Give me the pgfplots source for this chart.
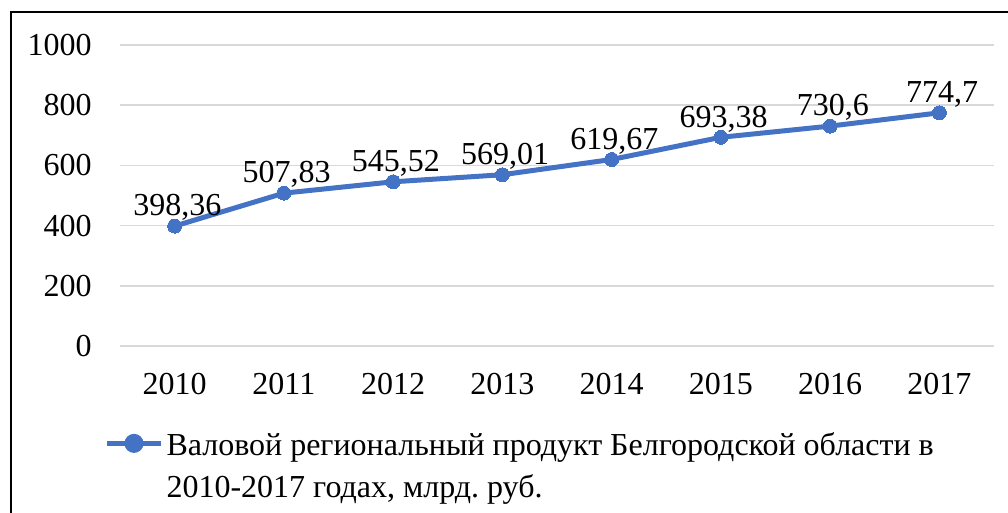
\documentclass[border=0pt]{standalone}
\usepackage{pgfplots}
\pgfplotsset{compat=1.18}
\usepackage{fontspec}
\setmainfont{Liberation Serif}
\definecolor{serblue}{HTML}{4472C4}
\definecolor{gridgray}{HTML}{D9D9D9}
\frenchspacing
\begin{document}
\fontsize{24}{33}\selectfont
\begin{tikzpicture}
\useasboundingbox (0pt,0pt) rectangle (756pt,384pt);
\draw[line width=1.5pt] (8.25pt,-20pt) rectangle (780pt,375pt);
\begin{axis}[
  at={(90pt,124.5pt)}, anchor=south west,
  scale only axis, width=655.5pt, height=225.75pt,
  xmin=2009.5, xmax=2017.5, ymin=0, ymax=1000,
  xtick={2010,2011,...,2017}, ytick={0,200,...,1000},
  /pgf/number format/1000 sep={},
  /pgf/number format/assume math mode=true,
  axis line style={draw=none}, major tick length=0pt,
  ymajorgrids, grid style={color=gridgray, line width=1.2pt},
  tick label style={font=\fontsize{24}{33}\selectfont},
  yticklabel style={xshift=-13pt},
  xticklabel style={yshift=-12pt},
  clip=false,
  nodes near coords, point meta=explicit symbolic,
  nodes near coords style={font=\fontsize{24}{33}\selectfont, text=black, anchor=south, inner sep=1pt, xshift=2pt, yshift=3pt},
  legend style={at={(-0.023,-0.27)}, anchor=north west, draw=none, fill=none,
    font=\fontsize{24}{31}\selectfont, cells={align=left}},
  legend cell align=left,
  legend image code/.code={
    \draw[line width=3.75pt, serblue] (0pt,18pt) -- (41pt,18pt);
    \fill[serblue] (20.5pt,18pt) circle (5.25pt);
  },
]
\addplot[color=serblue, line width=3.75pt, mark=*, mark size=5.25pt, mark options={fill=serblue, draw=serblue, line width=0pt}]
  table[meta=label] {
x y label
2010 398.36 398,36
2011 507.83 507,83
2012 545.52 545,52
2013 569.01 569,01
2014 619.67 619,67
2015 693.38 693,38
2016 730.6 730,6
2017 774.7 774,7
};
\addlegendentry{Валовой региональный продукт Белгородской области в\\2010-2017 годах, млрд.\ руб.}
\end{axis}
\end{tikzpicture}
\end{document}
